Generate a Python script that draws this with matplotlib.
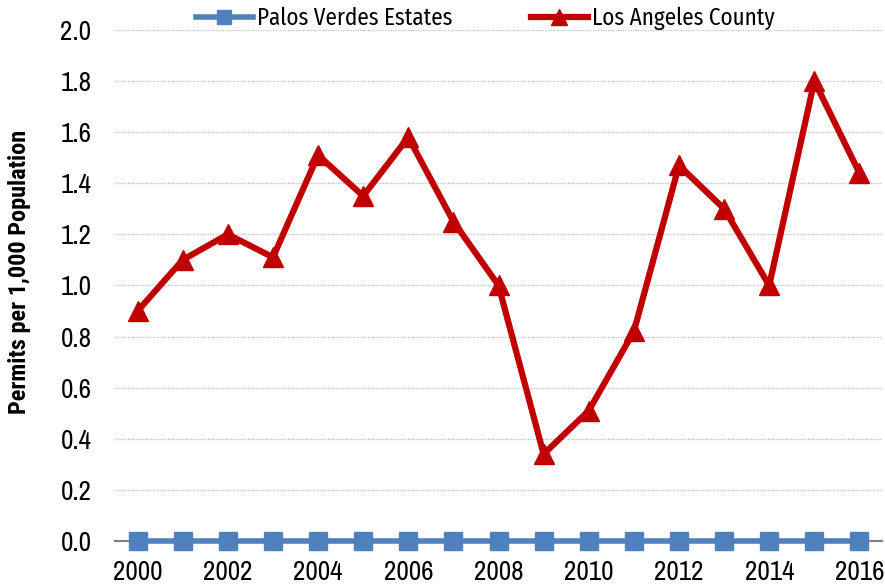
import matplotlib
matplotlib.use("Agg")
import matplotlib.pyplot as plt
from matplotlib import font_manager

# data
years = [2000, 2001, 2002, 2003, 2004, 2005, 2006, 2007, 2008,
         2009, 2010, 2011, 2012, 2013, 2014, 2015, 2016]
palos_verdes = [0.0] * 17
la_county = [0.90, 1.10, 1.20, 1.11, 1.51, 1.35, 1.58, 1.25, 1.00,
             0.34, 0.51, 0.82, 1.47, 1.30, 1.00, 1.80, 1.44]
tick_years = [2000, 2002, 2004, 2006, 2008, 2010, 2012, 2014, 2016]
y_ticks = [0.0, 0.2, 0.4, 0.6, 0.8, 1.0, 1.2, 1.4, 1.6, 1.8, 2.0]


def pick(*fams):
    names = {f.name for f in font_manager.fontManager.ttflist}
    for f in fams:
        if f in names:
            return f
    return 'DejaVu Sans'


tick_font = pick('Archivo Narrow', 'Roboto Condensed', 'Liberation Sans')
label_font = pick('Roboto Condensed', 'Liberation Sans')
legend_font = pick('Fira Sans Condensed', 'Carlito', 'Liberation Sans')

fig = plt.figure(figsize=(8.85, 5.87), dpi=100)
ax = fig.add_axes([0.130, 0.0784, 0.8666, 0.8706])

ax.plot(years, palos_verdes, color='#4F81BD', linewidth=4, marker='s',
        markersize=13.5, clip_on=False, zorder=3, label='Palos Verdes Estates')
ax.plot(years, la_county, color='#C00000', linewidth=4.5, marker='^',
        markersize=15, clip_on=False, zorder=4, label='Los Angeles County')

ax.set_xlim(1999.5, 2016.5)
ax.set_ylim(0, 2.0)
ax.set_xticks(tick_years)
ax.set_xticklabels([str(y) for y in tick_years], fontfamily=tick_font, fontsize=19.5)
ax.set_yticks(y_ticks)
ax.set_yticklabels([f'{v:.1f}' for v in y_ticks], fontfamily=tick_font, fontsize=19.5)
ax.tick_params(axis='y', length=0, pad=17)
ax.tick_params(axis='x', length=0, pad=14)

ax.yaxis.grid(True, color='#BFBFBF', linestyle=(0, (1, 1)), linewidth=0.9)
ax.set_axisbelow(True)
for s in ['top', 'right', 'left']:
    ax.spines[s].set_visible(False)
ax.spines['bottom'].set_color('#808080')
ax.spines['bottom'].set_linewidth(1.5)

ax.set_ylabel('Permits per 1,000 Population', fontfamily=label_font,
              fontsize=17.5, fontweight='bold', va='center')
ax.yaxis.set_label_coords(-0.124, 0.526)

fig.legend(loc='center', bbox_to_anchor=(0.548, 0.968), ncol=2, frameon=False,
           prop={'family': legend_font, 'size': 16.6}, columnspacing=3.4,
           handlelength=2.5, handletextpad=0.15, markerscale=0.75)

fig.savefig('out.png', dpi=100)
